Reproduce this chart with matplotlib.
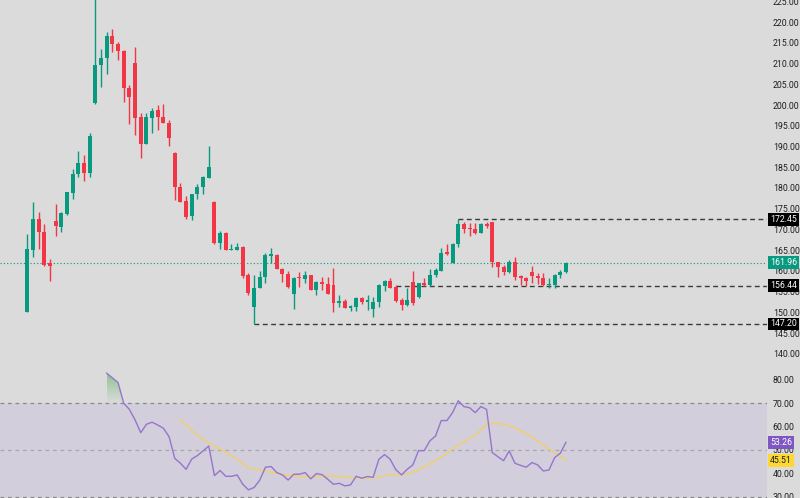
import numpy as np
import matplotlib
matplotlib.use("Agg")
import matplotlib.pyplot as plt
from matplotlib.patches import Polygon

plt.rcParams['font.family'] = ['Roboto', 'DejaVu Sans']

# velas diarias (apertura, maximo, minimo, cierre)
opens = [150.0, 165.0, 172.4, 169.5, 161.8, 172.0, 170.7, 173.7, 178.9, 183.4,
         186.1, 183.5, 200.6, 209.7, 211.3, 216.7, 214.8, 213.1, 204.2, 210.1,
         197.0, 190.6, 196.8, 198.7, 197.0, 195.7, 188.5, 180.2, 176.9, 173.2,
         178.5, 180.2, 182.4, 176.5, 166.7, 169.2, 165.0, 165.0, 165.8, 159.0,
         151.2, 155.8, 158.5, 163.7, 163.8, 160.4, 159.3, 154.4, 158.4, 158.1,
         158.9, 155.4, 157.3, 156.8, 156.6, 152.2, 152.8, 151.1, 151.4, 153.4,
         152.4, 150.7, 152.6, 156.4, 157.6, 156.2, 153.0, 151.8, 157.4, 153.8,
         157.0, 156.5, 158.9, 160.1, 164.5, 162.0, 166.6, 171.3, 170.1, 170.1,
         169.1, 171.3, 171.7, 162.1, 161.0, 159.8, 162.2, 158.8, 158.4, 159.8,
         158.8, 158.2, 156.6, 156.5, 159.0, 159.8]
highs = [168.9, 176.7, 174.2, 171.2, 162.9, 176.1, 174.3, 179.0, 184.6, 188.9,
         188.0, 193.2, 227.0, 213.4, 217.6, 218.3, 215.1, 213.2, 204.8, 214.1,
         198.0, 198.0, 199.2, 199.9, 200.3, 196.4, 188.6, 181.1, 178.1, 178.5,
         181.0, 182.9, 190.2, 176.9, 169.7, 169.5, 166.4, 166.8, 166.0, 159.4,
         159.0, 160.0, 164.2, 165.6, 164.0, 160.6, 160.1, 158.6, 159.8, 160.0,
         159.0, 157.6, 158.6, 158.5, 160.6, 154.3, 153.2, 151.9, 153.8, 153.8,
         154.2, 153.8, 156.8, 157.8, 158.4, 156.6, 153.4, 156.0, 160.0, 157.2,
         158.2, 160.5, 160.6, 165.6, 166.6, 166.8, 172.45, 171.9, 171.6, 171.5,
         171.6, 171.9, 171.9, 162.2, 161.4, 162.6, 163.4, 159.0, 158.6, 161.2,
         159.6, 159.4, 158.2, 159.2, 160.2, 162.1]
lows = [150.0, 163.3, 165.2, 161.3, 157.6, 168.4, 169.5, 173.5, 177.3, 182.7,
        181.8, 182.6, 200.2, 204.4, 207.5, 212.9, 210.9, 200.8, 195.4, 192.8,
        187.3, 190.6, 193.3, 194.1, 195.6, 190.2, 177.1, 176.7, 172.4, 172.3,
        177.3, 178.5, 182.4, 166.4, 165.3, 165.0, 165.0, 165.0, 158.2, 154.2,
        147.2, 155.8, 157.0, 161.8, 160.4, 157.4, 156.0, 150.8, 156.2, 157.2,
        155.4, 154.2, 155.4, 154.4, 150.2, 151.4, 151.1, 150.3, 150.4, 152.0,
        150.6, 148.8, 151.4, 155.2, 155.8, 152.6, 150.6, 151.5, 151.8, 153.4,
        156.4, 156.4, 158.6, 160.1, 163.8, 161.8, 165.8, 169.1, 168.4, 168.9,
        169.1, 170.3, 161.0, 158.6, 159.0, 159.4, 157.8, 156.6, 156.4, 157.0,
        156.8, 156.4, 155.8, 156.0, 158.4, 159.6]
closes = [165.2, 172.4, 169.5, 161.4, 161.3, 170.8, 173.9, 179.0, 183.4, 186.1,
          183.5, 192.5, 209.7, 211.4, 216.7, 214.6, 213.0, 204.0, 202.0, 196.8,
          190.6, 197.0, 198.6, 197.2, 195.6, 192.1, 180.2, 176.7, 173.1, 178.5,
          180.2, 182.6, 185.1, 166.7, 169.2, 165.0, 165.2, 165.8, 158.8, 154.6,
          156.0, 158.5, 163.8, 164.0, 160.4, 159.3, 156.2, 158.4, 158.2, 158.9,
          155.4, 157.3, 156.8, 154.4, 152.2, 152.7, 151.1, 151.5, 153.5, 152.4,
          153.0, 152.6, 156.6, 157.6, 156.0, 152.8, 151.8, 153.1, 152.2, 157.0,
          156.6, 158.9, 160.2, 164.4, 164.0, 166.6, 171.3, 170.0, 170.0, 169.1,
          171.3, 170.9, 162.1, 161.0, 159.8, 162.2, 158.6, 158.4, 157.6, 158.8,
          158.2, 156.6, 156.9, 159.0, 159.8, 161.96]

# RSI (desde la vela 15) y su media
rsi_start = 14
rsi = [82.9, 80.9, 78.9, 70.0, 67.4, 62.9, 57.4, 61.0, 61.9, 60.7,
       59.3, 55.7, 46.4, 44.3, 41.7, 46.1, 47.6, 49.6, 51.7, 39.0,
       41.2, 38.7, 38.7, 39.3, 35.3, 32.9, 33.9, 37.1, 42.6, 42.9,
       40.3, 39.3, 37.1, 39.6, 39.6, 40.3, 37.6, 39.9, 39.4, 37.4,
       35.3, 35.7, 34.6, 35.0, 38.7, 37.9, 38.6, 38.3, 46.0, 48.0,
       46.0, 41.5, 39.3, 41.7, 43.6, 49.7, 49.7, 53.9, 56.0, 62.6,
       62.6, 66.0, 71.1, 68.6, 68.1, 66.0, 68.6, 67.4, 48.9, 47.1,
       45.4, 49.6, 44.3, 43.4, 42.6, 44.6, 43.6, 41.0, 41.4, 46.7,
       48.6, 53.26]
ma_x = [27, 30, 33, 36, 39, 42, 45, 48, 51, 54, 57, 60, 62, 64, 66, 68,
        71, 74, 76, 79, 81, 82, 84, 86, 89, 92, 94, 95]
ma_y = [63.1, 56.2, 51.6, 47.6, 42.3, 41.0, 39.4, 38.6, 38.7, 38.9, 38.2,
        37.9, 38.3, 39.5, 39.3, 40.4, 44.0, 48.6, 52.1, 56.2, 61.1, 61.4,
        61.1, 59.5, 55.7, 50.3, 47.4, 45.51]

levels = [172.45, 156.44, 147.20]
level_start = [76, 65, 40]
last_price = 161.96

BG = '#dbdbdb'
UP = '#089981'
DOWN = '#f23645'

fig = plt.figure(figsize=(8, 4.98), dpi=100, facecolor=BG)
W = 767 / 800
ax = fig.add_axes([0, 140 / 498, W, 358 / 498], facecolor=BG)
ax2 = fig.add_axes([0, 0, W, 139 / 498], facecolor=BG)

xlim = (-4.82, 130.46)
idx = np.arange(len(opens))
o = np.array(opens)
c = np.array(closes)
cols = [UP if cc >= oo else DOWN for oo, cc in zip(o, c)]
ax.vlines(idx, lows, highs, colors=cols, linewidth=1.0, zorder=3)
bottoms = np.minimum(o, c)
heights = np.maximum(np.abs(c - o), 0.3)
ax.bar(idx, heights, bottom=bottoms, width=0.7, color=cols, zorder=4)

ax.axhline(last_price, color=UP, linestyle=(0, (1, 2)), linewidth=0.8, zorder=2)
for lv, st in zip(levels, level_start):
    ax.hlines(lv, st, xlim[1], colors='#3a3a3a', linestyles=(0, (3.5, 2.5)),
              linewidth=1.0, zorder=2)

ax.set_xlim(*xlim)
ax.set_ylim(139.0, 225.33)
ax.set_yticks(np.arange(140, 226, 5))
ax.yaxis.set_major_formatter(matplotlib.ticker.FormatStrFormatter('%.2f'))

# RSI
rx = np.arange(rsi_start, rsi_start + len(rsi))
ra = np.array(rsi)
ax2.axhspan(30, 70, color='#d2cedb', zorder=0, linewidth=0)
for lv, col in [(70, '#8a8a8a'), (50, '#a8a8a8'), (30, '#8a8a8a')]:
    ax2.axhline(lv, color=col, linestyle=(0, (3, 3)), linewidth=0.9, zorder=1)

# relleno degradado sobre 70
over = ra > 70
if over.any():
    k0 = np.argmax(over)
    k1 = len(ra) - np.argmax(over[::-1]) - 1
    seg = slice(max(k0 - 1, 0), min(k1 + 2, len(ra)))
    sx = rx[seg].astype(float)
    sy = np.maximum(ra[seg], 70)
    pts = np.column_stack([np.r_[sx, sx[::-1]], np.r_[sy, np.full(len(sy), 70)]])
    poly = Polygon(pts, closed=True, facecolor='none', edgecolor='none')
    ax2.add_patch(poly)
    grad = np.zeros((100, 1, 4))
    grad[..., 0] = 0x4c / 255
    grad[..., 1] = 0xaf / 255
    grad[..., 2] = 0x50 / 255
    grad[:, 0, 3] = np.linspace(0.0, 0.55, 100)
    im = ax2.imshow(grad, extent=[sx.min(), sx.max(), 70, ra.max()],
                    origin='lower', aspect='auto', zorder=2)
    im.set_clip_path(poly)

ax2.plot(rx, ra, color='#9575cd', linewidth=1.0, zorder=4)
ax2.plot(ma_x, ma_y, color='#f2d066', linewidth=1.0, zorder=3)
ax2.set_xlim(*xlim)
ax2.set_ylim(29.4, 89.0)
ax2.set_yticks(np.arange(30, 81, 10))
ax2.yaxis.set_major_formatter(matplotlib.ticker.FormatStrFormatter('%.2f'))

for a in (ax, ax2):
    for s in a.spines.values():
        s.set_visible(False)
    a.set_xticks([])
    a.yaxis.tick_right()
    a.tick_params(axis='y', length=0, pad=4.2, labelsize=6.3, labelcolor='#1f1f1f')


def tag(a, val, txt, fc, tc):
    a.annotate(txt, xy=(1, val), xycoords=a.get_yaxis_transform(),
               xytext=(2.3, 0), textcoords='offset points', ha='left', va='center',
               fontsize=6.3, color=tc, annotation_clip=False, zorder=10,
               bbox=dict(boxstyle='square,pad=0.22', fc=fc, ec='none'))


for lv in levels:
    tag(ax, lv, f'{lv:.2f}', '#000000', 'white')
tag(ax, last_price, f'{last_price:.2f}', UP, 'white')
tag(ax2, rsi[-1], f'{rsi[-1]:.2f}', '#7e57c2', 'white')
tag(ax2, ma_y[-1], f'{ma_y[-1]:.2f}', '#fdd835', '#1f1f1f')

fig.savefig('out.png', dpi=100, facecolor=BG)
